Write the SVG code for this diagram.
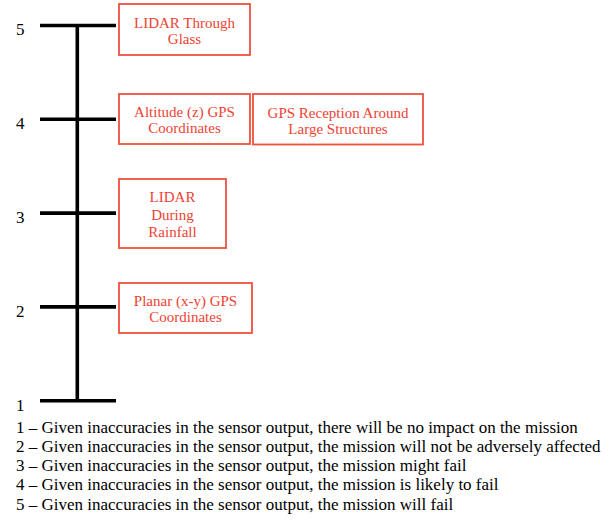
<svg xmlns="http://www.w3.org/2000/svg" width="610" height="520" viewBox="0 0 610 520">
  <style>
    .axis { stroke: #000; stroke-width: 3.6; fill: none; stroke-linecap: butt; }
    .lvl { font-family: "Liberation Serif", "Times New Roman", serif; font-size: 17px; fill: #000; }
    .box { fill: #fff; stroke: #f0503c; stroke-width: 1.8; }
    .lbl { font-family: "Liberation Serif", "Times New Roman", serif; font-size: 15px; fill: #ee4232; text-anchor: middle; }
    .key { font-family: "Liberation Serif", "Times New Roman", serif; font-size: 17px; fill: #000; }
  </style>
  <rect width="610" height="520" fill="#fff"/>

  <!-- severity scale: spine and level ticks -->
  <g id="connectors">
    <line class="axis" x1="77.3" y1="25.5" x2="77.3" y2="400.7"/>
    <line class="axis" x1="40" y1="25.5" x2="116" y2="25.5"/>
    <line class="axis" x1="40" y1="119.3" x2="116" y2="119.3"/>
    <line class="axis" x1="40" y1="213.1" x2="116" y2="213.1"/>
    <line class="axis" x1="40" y1="306.9" x2="116" y2="306.9"/>
    <line class="axis" x1="40" y1="400.7" x2="116" y2="400.7"/>
  </g>

  <g id="levels">
    <text class="lvl" x="16" y="35">5</text>
    <text class="lvl" x="16" y="129">4</text>
    <text class="lvl" x="16" y="223">3</text>
    <text class="lvl" x="16" y="316.5">2</text>
    <text class="lvl" x="16" y="410.5">1</text>
  </g>

  <g id="lidar-glass">
    <rect class="box" x="119" y="4" width="131" height="51"/>
    <text class="lbl" x="184.5" y="28">LIDAR Through</text>
    <text class="lbl" x="184.5" y="44">Glass</text>
  </g>

  <g id="altitude-gps">
    <rect class="box" x="119" y="94" width="131" height="50"/>
    <text class="lbl" x="184.5" y="117">Altitude (z) GPS</text>
    <text class="lbl" x="184.5" y="133">Coordinates</text>
  </g>

  <g id="gps-structures">
    <rect class="box" x="253" y="94" width="170" height="50.5"/>
    <text class="lbl" x="338" y="117.5">GPS Reception Around</text>
    <text class="lbl" x="338" y="133.5">Large Structures</text>
  </g>

  <g id="lidar-rain">
    <rect class="box" x="119" y="179" width="107" height="69"/>
    <text class="lbl" x="172.5" y="202">LIDAR</text>
    <text class="lbl" x="172.5" y="219.5">During</text>
    <text class="lbl" x="172.5" y="237">Rainfall</text>
  </g>

  <g id="planar-gps">
    <rect class="box" x="119" y="283" width="133" height="50"/>
    <text class="lbl" x="185.5" y="306">Planar (x-y) GPS</text>
    <text class="lbl" x="185.5" y="322">Coordinates</text>
  </g>

  <!-- level definitions -->
  <g id="legend">
    <text class="key" x="16" y="432.5">1 – Given inaccuracies in the sensor output, there will be no impact on the mission</text>
    <text class="key" x="16" y="451.8">2 – Given inaccuracies in the sensor output, the mission will not be adversely affected</text>
    <text class="key" x="16" y="471.1">3 – Given inaccuracies in the sensor output, the mission might fail</text>
    <text class="key" x="16" y="490.4">4 – Given inaccuracies in the sensor output, the mission is likely to fail</text>
    <text class="key" x="16" y="509.7">5 – Given inaccuracies in the sensor output, the mission will fail</text>
  </g>
</svg>
